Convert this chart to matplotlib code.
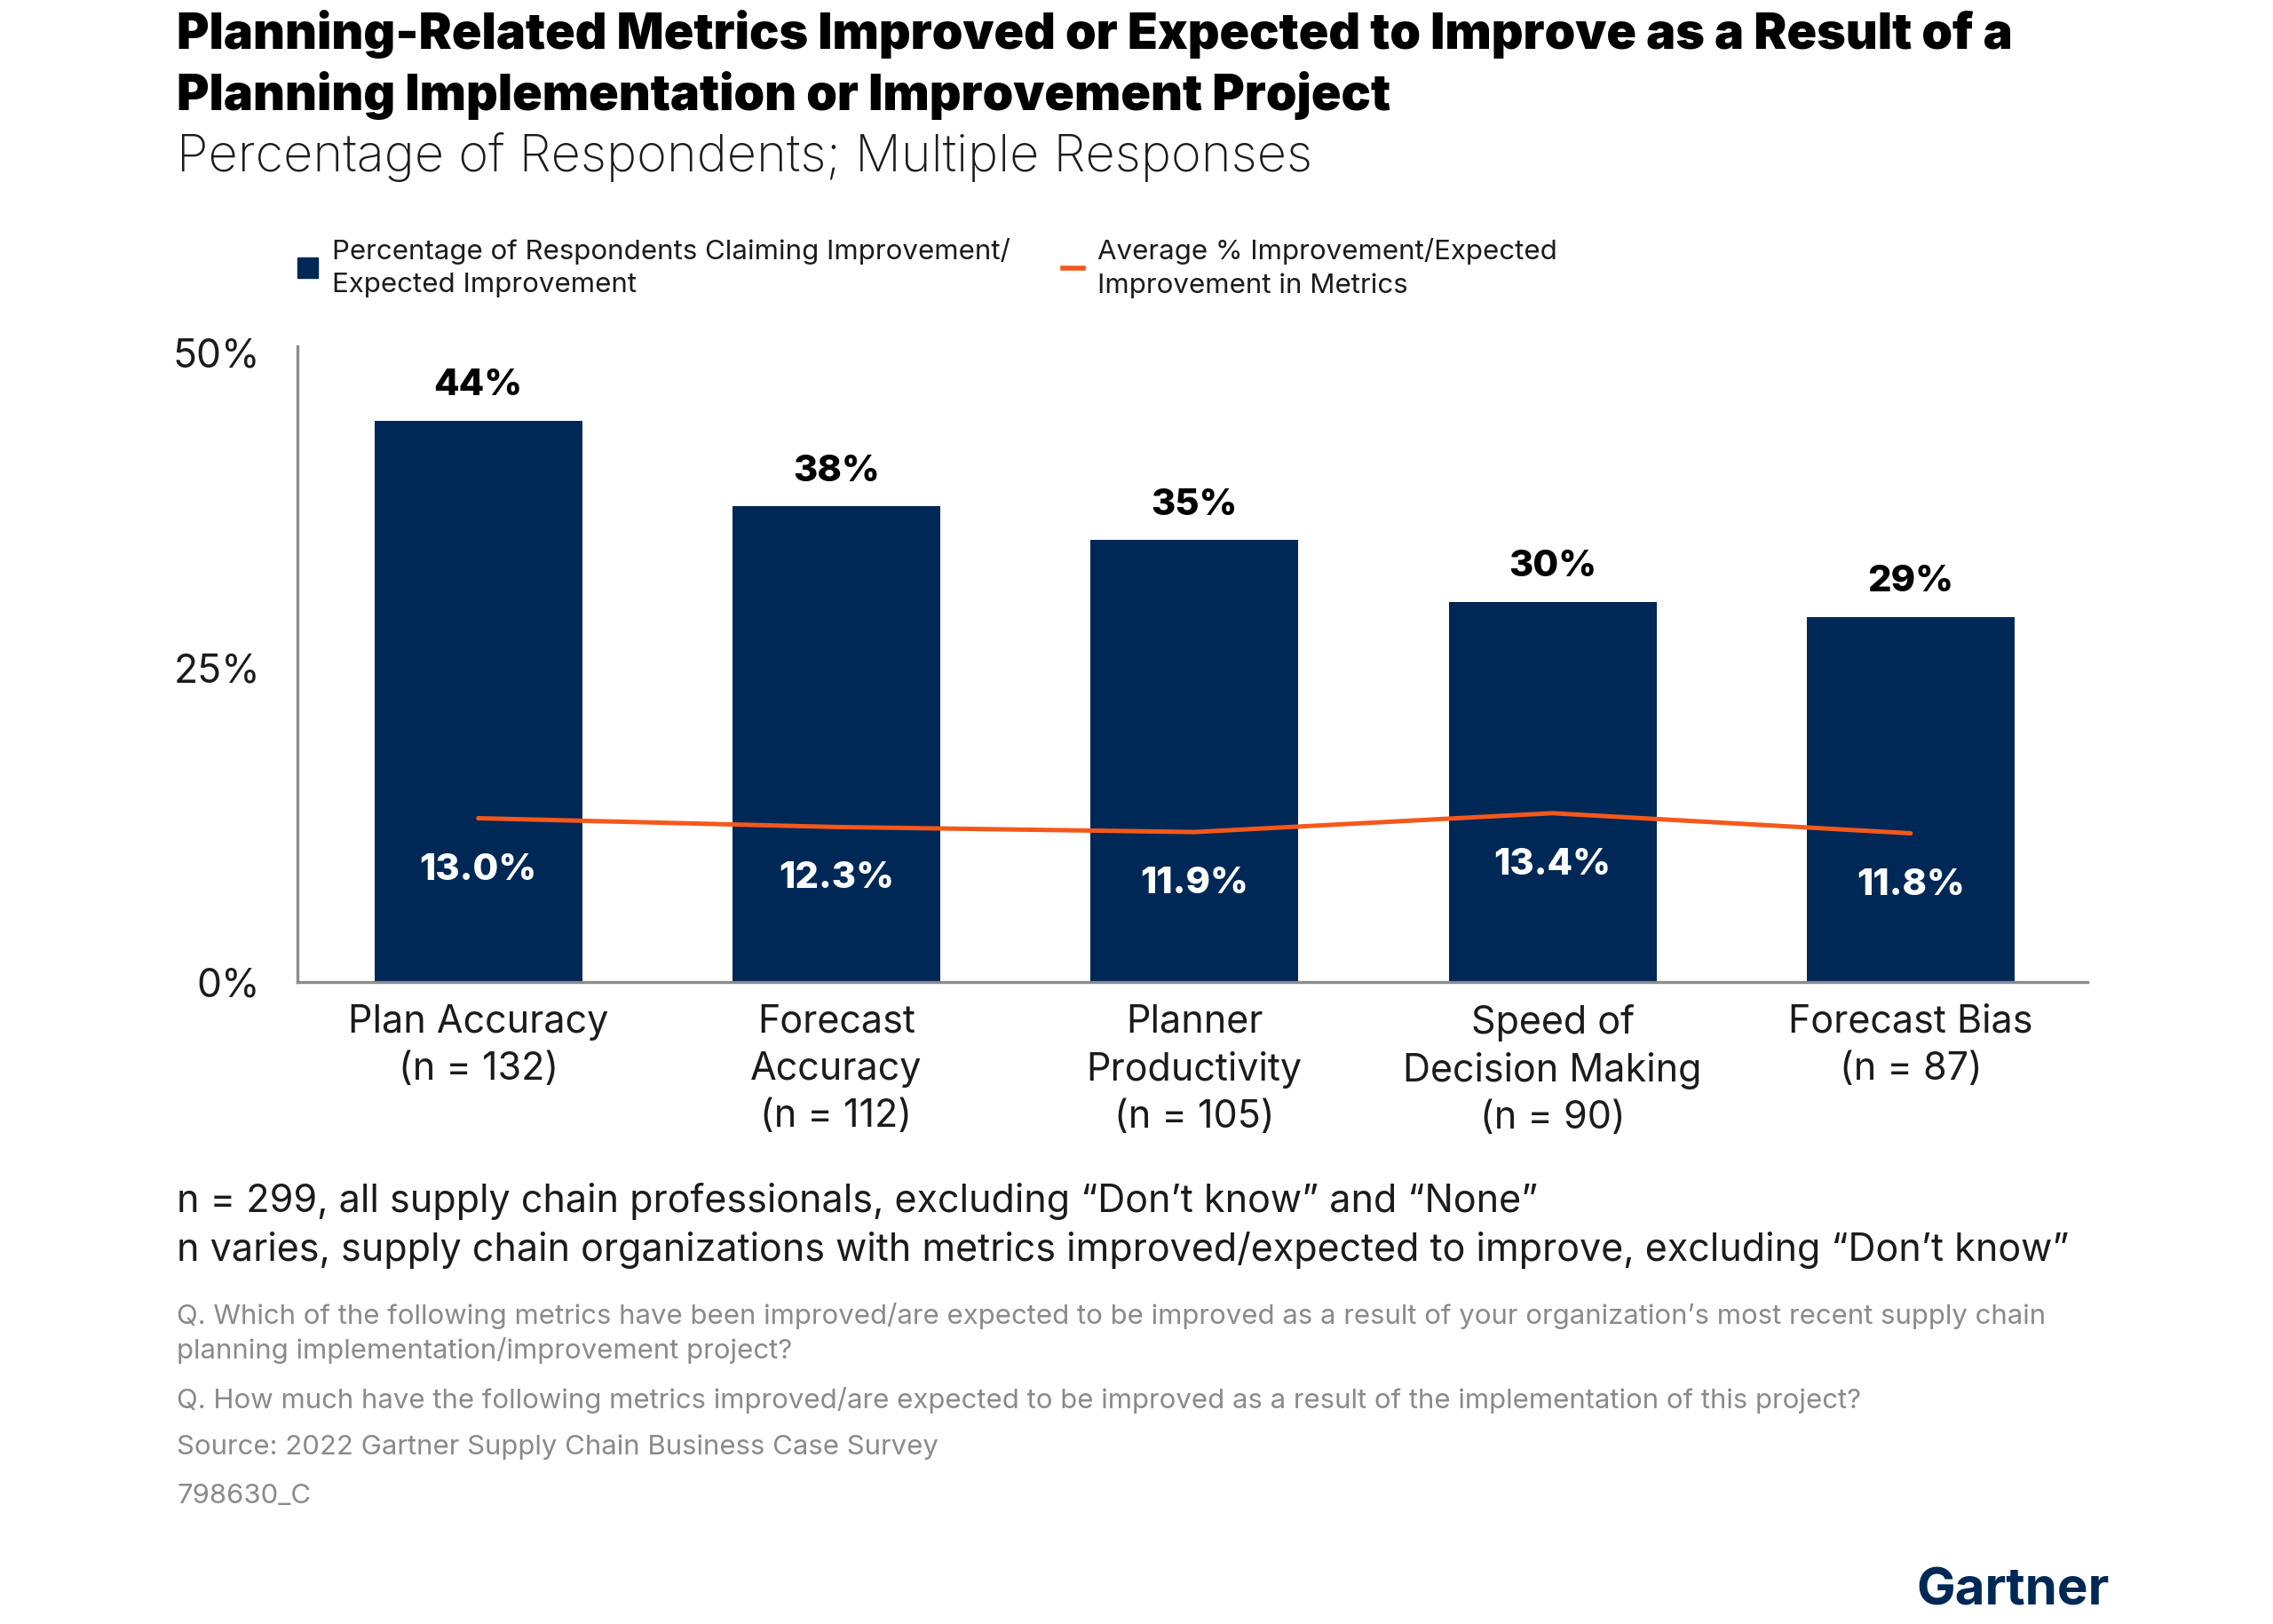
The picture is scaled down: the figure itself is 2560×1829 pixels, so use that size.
import matplotlib
matplotlib.use("Agg")
import matplotlib.pyplot as plt
from matplotlib.patches import Patch
from matplotlib.lines import Line2D

plt.rcParams['font.family'] = ['Inter', 'DejaVu Sans']

# data
categories = ["Plan Accuracy\n(n = 132)", "Forecast\nAccuracy\n(n = 112)", "Planner\nProductivity\n(n = 105)",
              "Speed of\nDecision Making\n(n = 90)", "Forecast Bias\n(n = 87)"]
pct_claiming = [44.6, 37.8, 35.1, 30.2, 29.0]
pct_labels = ["44%", "38%", "35%", "30%", "29%"]
avg_improvement = [13.0, 12.3, 11.9, 13.4, 11.8]
y_ticks = [0, 25, 50]
y_ticklabels = ["0%", "25%", "50%"]

navy = "#002856"
orange = "#f4581c"
gray_txt = "#8a8a8a"
dark = "#1b1b1b"

fig = plt.figure(figsize=(25.6, 18.29), dpi=100)
ax = fig.add_axes([0.1307, 0.3955, 0.9184 - 0.1307, 0.7866 - 0.3955])

x = list(range(len(categories)))
ax.bar(x, pct_claiming, width=0.58, color=navy, zorder=2)
ax.plot(x, avg_improvement, color=orange, lw=3.6, zorder=3, solid_capstyle='round')

for xi, v, lab in zip(x, pct_claiming, pct_labels):
    ax.text(xi, v + 2.8, lab, ha='center', va='center', fontsize=30, fontweight='heavy', color='black')
for xi, v in zip(x, avg_improvement):
    ax.text(xi, v - 4.1, f"{v:.1f}%", ha='center', va='center', fontsize=30, fontweight='heavy', color='white')

ax.set_xlim(-0.506, 4.494)
ax.set_ylim(0, 50.5)
ax.set_yticks(y_ticks)
ax.set_yticklabels(y_ticklabels, fontsize=32, color=dark)
ax.set_xticks(x)
ax.set_xticklabels(categories, fontsize=31, color=dark, linespacing=1.38)
ax.tick_params(axis='y', length=0, pad=30)
ax.tick_params(axis='x', length=0, pad=18)
for s in ['top', 'right']:
    ax.spines[s].set_visible(False)
for s in ['left', 'bottom']:
    ax.spines[s].set_color('#8c8c8c')
    ax.spines[s].set_linewidth(2.4)

# legend (two separate blocks)
leg1 = fig.legend([Patch(color=navy)], ["Percentage of Respondents Claiming Improvement/\nExpected Improvement"],
                  loc='upper left', bbox_to_anchor=(0.1307, 0.8535), frameon=False, fontsize=22.5,
                  handlelength=0.75, handleheight=0.75, handletextpad=0.5, borderpad=0, borderaxespad=0,
                  labelcolor=dark)
leg2 = fig.legend([Line2D([0], [0], color=orange, lw=4)], ["Average % Improvement/Expected\nImprovement in Metrics"],
                  loc='upper left', bbox_to_anchor=(0.4675, 0.8535), frameon=False, fontsize=22.5,
                  handlelength=0.75, handletextpad=0.5, borderpad=0, borderaxespad=0, labelcolor=dark)
for leg in (leg1, leg2):
    for t in leg.get_texts():
        t.set_linespacing(1.42)

# titles
fig.text(0.0778, 0.979, "Planning-Related Metrics Improved or Expected to Improve as a Result of a",
         fontsize=40, fontweight='black', color='black', va='center', ha='left')
fig.text(0.0778, 0.941, "Planning Implementation or Improvement Project",
         fontsize=40, fontweight='black', color='black', va='center', ha='left')
fig.text(0.0778, 0.903, "Percentage of Respondents; Multiple Responses",
         fontsize=41.5, fontweight='light', color=dark, va='center', ha='left')

# notes
fig.text(0.0778, 0.260, "n = 299, all supply chain professionals, excluding \u201cDon\u2019t know\u201d and \u201cNone\u201d",
         fontsize=31, color=dark, va='center')
fig.text(0.0778, 0.230, "n varies, supply chain organizations with metrics improved/expected to improve, excluding \u201cDon\u2019t know\u201d",
         fontsize=31, color=dark, va='center')
fig.text(0.0778, 0.179, "Q. Which of the following metrics have been improved/are expected to be improved as a result of your organization\u2019s most recent supply chain\nplanning implementation/improvement project?",
         fontsize=22.4, color=gray_txt, va='center', linespacing=1.35)
fig.text(0.0778, 0.138, "Q. How much have the following metrics improved/are expected to be improved as a result of the implementation of this project?",
         fontsize=22.4, color=gray_txt, va='center')
fig.text(0.0778, 0.109, "Source: 2022 Gartner Supply Chain Business Case Survey",
         fontsize=22.4, color=gray_txt, va='center')
fig.text(0.0778, 0.079, "798630_C", fontsize=22.4, color=gray_txt, va='center')
fig.text(0.928, 0.020, "Gartner", fontsize=42, fontweight='bold', color=navy, va='center', ha='right')

fig.savefig("out.png", dpi=100, facecolor='white')
